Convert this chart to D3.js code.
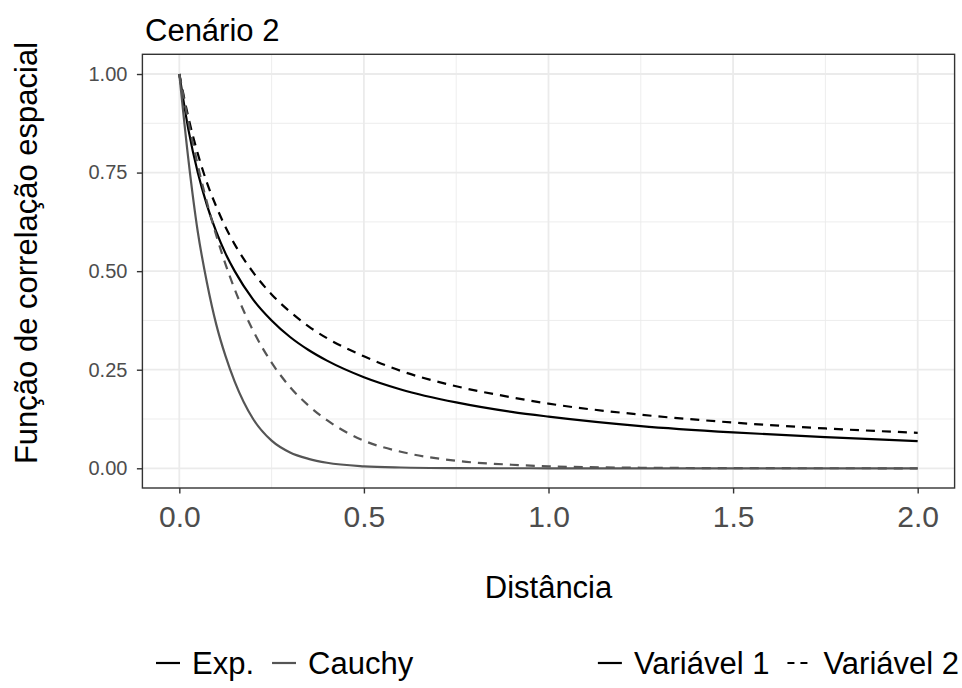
<!DOCTYPE html>
<html>
<head>
<meta charset="utf-8">
<script src="https://cdn.jsdelivr.net/npm/d3@7"></script>
<style>
  html, body { margin: 0; padding: 0; background: #ffffff; }
  svg { display: block; font-family: "Liberation Sans", Arial, Helvetica, sans-serif; }
</style>
</head>
<body>
<svg id="chart" width="962" height="688"></svg>
<script>
// Distances at which each correlation function is sampled
const distances = [0, 0.025, 0.05, 0.075, 0.1, 0.125, 0.15, 0.2, 0.25, 0.3, 0.35, 0.4, 0.5, 0.6, 0.75, 0.9, 1.0, 1.25, 1.5, 1.75, 2.0];

// Correlation values per family and variable
const expVar1    = [1, 0.857, 0.75, 0.667, 0.60, 0.545, 0.50, 0.428, 0.375, 0.333, 0.30, 0.273, 0.231, 0.20, 0.167, 0.143, 0.131, 0.107, 0.091, 0.079, 0.069];
const expVar2    = [1, 0.888, 0.798, 0.724, 0.664, 0.612, 0.568, 0.497, 0.441, 0.397, 0.360, 0.330, 0.284, 0.247, 0.208, 0.180, 0.164, 0.136, 0.116, 0.101, 0.090];
const cauchyVar1 = [1, 0.78, 0.60, 0.47, 0.365, 0.285, 0.22, 0.125, 0.07, 0.04, 0.024, 0.014, 0.005, 0.002, 0.0005, 0.0001, 0, 0, 0, 0, 0];
const cauchyVar2 = [1, 0.877, 0.769, 0.674, 0.591, 0.518, 0.454, 0.349, 0.268, 0.206, 0.159, 0.122, 0.070, 0.042, 0.019, 0.009, 0.005, 0.0014, 0.0004, 0.0001, 0];

// Legend entries and tick labels
const families = ["Exp.", "Cauchy"];
const variables = ["Variável 1", "Variável 2"];
const xTicks = [0, 0.5, 1.0, 1.5, 2.0];
const yTicks = [0, 0.25, 0.5, 0.75, 1.0];

const familyColor = { "Exp.": "#000000", "Cauchy": "#555555" };
const variableDash = { "Variável 1": null, "Variável 2": "9,7" };

const series = [
  { family: "Exp.", variable: "Variável 1", values: expVar1 },
  { family: "Exp.", variable: "Variável 2", values: expVar2 },
  { family: "Cauchy", variable: "Variável 1", values: cauchyVar1 },
  { family: "Cauchy", variable: "Variável 2", values: cauchyVar2 }
];

const FONT = "'Liberation Sans', Arial, sans-serif";
const svg = d3.select("#chart");
const panel = { left: 142.4, right: 954.6, top: 54.3, bottom: 488 };

const x = d3.scaleLinear().domain([-0.1, 2.1]).range([panel.left, panel.right]);
const y = d3.scaleLinear().domain([-0.05, 1.05]).range([panel.bottom, panel.top]);

// Panel background
svg.append("rect")
  .attr("x", panel.left).attr("y", panel.top)
  .attr("width", panel.right - panel.left).attr("height", panel.bottom - panel.top)
  .attr("fill", "#ffffff");

const grid = svg.append("g");
// Minor grid lines
const xMinor = [0.25, 0.75, 1.25, 1.75];
const yMinor = [0.125, 0.375, 0.625, 0.875];
grid.selectAll(".xminor").data(xMinor).join("line")
  .attr("x1", d => x(d)).attr("x2", d => x(d))
  .attr("y1", panel.top).attr("y2", panel.bottom)
  .attr("stroke", "#ebebeb").attr("stroke-width", 0.9);
grid.selectAll(".yminor").data(yMinor).join("line")
  .attr("y1", d => y(d)).attr("y2", d => y(d))
  .attr("x1", panel.left).attr("x2", panel.right)
  .attr("stroke", "#ebebeb").attr("stroke-width", 0.9);
// Major grid lines
grid.selectAll(".xmajor").data(xTicks).join("line")
  .attr("x1", d => x(d)).attr("x2", d => x(d))
  .attr("y1", panel.top).attr("y2", panel.bottom)
  .attr("stroke", "#ebebeb").attr("stroke-width", 1.8);
grid.selectAll(".ymajor").data(yTicks).join("line")
  .attr("y1", d => y(d)).attr("y2", d => y(d))
  .attr("x1", panel.left).attr("x2", panel.right)
  .attr("stroke", "#ebebeb").attr("stroke-width", 1.8);

// Curves
const line = d3.line()
  .x((d, i) => x(distances[i]))
  .y(d => y(d))
  .curve(d3.curveMonotoneX);

svg.append("clipPath").attr("id", "panel-clip")
  .append("rect")
  .attr("x", panel.left).attr("y", panel.top)
  .attr("width", panel.right - panel.left).attr("height", panel.bottom - panel.top);

svg.append("g").attr("clip-path", "url(#panel-clip)")
  .selectAll("path").data(series).join("path")
  .attr("d", s => line(s.values))
  .attr("fill", "none")
  .attr("stroke", s => familyColor[s.family])
  .attr("stroke-width", 2.2)
  .attr("stroke-dasharray", s => variableDash[s.variable]);

// Panel border
svg.append("rect")
  .attr("x", panel.left).attr("y", panel.top)
  .attr("width", panel.right - panel.left).attr("height", panel.bottom - panel.top)
  .attr("fill", "none").attr("stroke", "#333333").attr("stroke-width", 1.4);

// Axes
const xAxis = d3.axisBottom(x).tickValues(xTicks).tickFormat(d3.format(".1f"))
  .tickSize(5.5).tickPadding(12);
const gx = svg.append("g").attr("transform", `translate(0,${panel.bottom})`).call(xAxis);
gx.select(".domain").remove();
gx.selectAll(".tick line").attr("stroke", "#333333").attr("stroke-width", 1.4);
gx.selectAll(".tick text").attr("fill", "#4d4d4d")
  .style("font-size", "30px").style("font-family", FONT);

const yAxis = d3.axisLeft(y).tickValues(yTicks).tickFormat(d3.format(".2f"))
  .tickSize(5.5).tickPadding(9.5);
const gy = svg.append("g").attr("transform", `translate(${panel.left},0)`).call(yAxis);
gy.select(".domain").remove();
gy.selectAll(".tick line").attr("stroke", "#333333").attr("stroke-width", 1.4);
gy.selectAll(".tick text").attr("fill", "#4d4d4d")
  .style("font-size", "20px").style("font-family", FONT);

// Titles
svg.append("text").attr("x", 145).attr("y", 41)
  .attr("font-size", 31).attr("fill", "#000").text("Cenário 2");

svg.append("text")
  .attr("transform", `translate(36.5,253) rotate(-90)`)
  .attr("text-anchor", "middle")
  .attr("font-size", 31).attr("fill", "#000").text("Função de correlação espacial");

svg.append("text").attr("x", (panel.left + panel.right) / 2).attr("y", 598)
  .attr("text-anchor", "middle")
  .attr("font-size", 31).attr("fill", "#000").text("Distância");

// Legends: colour by family (left group), line type by variable (right group)
const legendY = 663;
const keyLen = 24, keyGap = 12, itemGap = 18;
const groups = [
  { anchor: "start", at: 156, items: families.map(f => ({ label: f, color: familyColor[f], dash: null })) },
  { anchor: "end", at: 959, items: variables.map(v => ({ label: v, color: "#000000", dash: variableDash[v] })) }
];
groups.forEach(grp => {
  const g = svg.append("g");
  let cursor = 0;
  grp.items.forEach(it => {
    g.append("line")
      .attr("x1", cursor).attr("x2", cursor + keyLen)
      .attr("y1", legendY).attr("y2", legendY)
      .attr("stroke", it.color).attr("stroke-width", 2.2)
      .attr("stroke-dasharray", it.dash ? "7,6" : null);
    const t = g.append("text")
      .attr("x", cursor + keyLen + keyGap).attr("y", legendY + 11)
      .attr("font-size", 31).attr("fill", "#000").text(it.label);
    cursor += keyLen + keyGap + t.node().getComputedTextLength() + itemGap;
  });
  const width = cursor - itemGap;
  const start = grp.anchor === "start" ? grp.at : grp.at - width;
  g.attr("transform", `translate(${start},0)`);
});
</script>
</body>
</html>
